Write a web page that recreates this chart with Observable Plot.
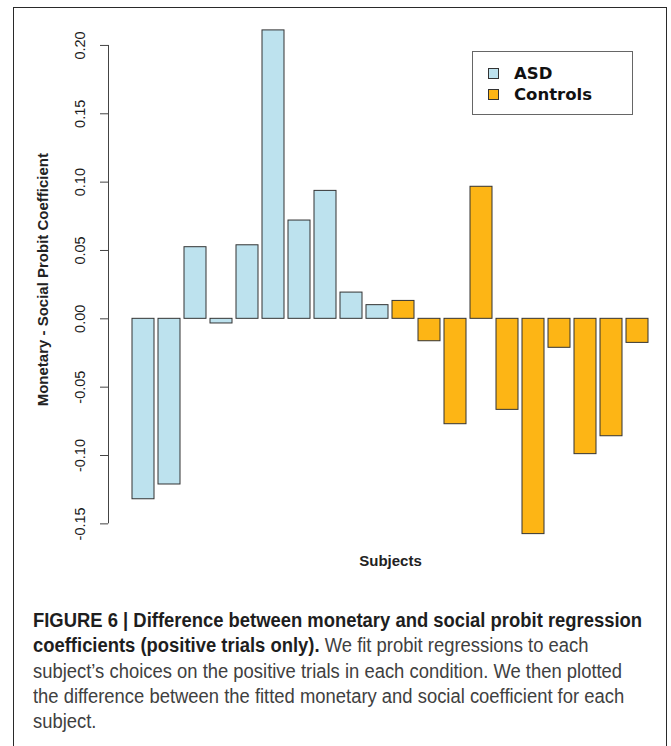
<!DOCTYPE html>
<html>
<head>
<meta charset="utf-8">
<script src="https://cdn.jsdelivr.net/npm/d3@7"></script>
<script src="https://cdn.jsdelivr.net/npm/@observablehq/plot@0.6"></script>
<style>
  html, body { margin: 0; padding: 0; overflow: hidden; background: #fff; width: 671px; height: 746px; }
  #frame { position: absolute; left: 13px; top: 7px; width: 654px; height: 800px; border: 1.5px solid #2a2a2a; box-sizing: border-box; }
  #chart { position: absolute; left: 0; top: 0; }
  #legend { position: absolute; left: 472px; top: 51px; width: 161px; height: 64px; border: 1.5px solid #666; box-sizing: border-box; background: #fff;
            font-family: "DejaVu Sans", Verdana, sans-serif; font-weight: bold; font-size: 16.5px; color: #111; }
  .lg-row { position: absolute; left: 15px; display: flex; align-items: center; height: 20px; }
  .lg-sw { width: 11px; height: 11px; border: 1.2px solid #333; box-sizing: border-box; margin-right: 15px; }
  #caption { position: absolute; left: 33px; top: 608px; font-family: "Liberation Sans Narrow", "Arial Narrow", "Liberation Sans", sans-serif;
             font-size: 20px; line-height: 25.3px; color: #404040; white-space: nowrap; transform: scaleX(0.921); transform-origin: 0 0; }
  #caption b { color: #1e1e1e; }
</style>
</head>
<body>
<div id="frame"></div>
<div id="chart"></div>
<div id="legend"></div>
<div id="caption">
  <b>FIGURE 6 | Difference between monetary and social probit regression</b><br>
  <b>coefficients (positive trials only).</b> We fit probit regressions to each<br>
  subject’s choices on the positive trials in each condition. We then plotted<br>
  the difference between the fitted monetary and social coefficient for each<br>
  subject.
</div>
<script>
// ---- data ----
const groups = ["ASD", "Controls"];
const colors = ["#bde2ee", "#fdb515"];
const asdSubjects = ["S1", "S2", "S3", "S4", "S5", "S6", "S7", "S8", "S9", "S10"];
const asdValues = [-0.132, -0.1212, 0.0524, -0.0034, 0.0538, 0.211, 0.0719, 0.0936, 0.0192, 0.0100];
const controlSubjects = ["S11", "S12", "S13", "S14", "S15", "S16", "S17", "S18", "S19", "S20"];
const controlValues = [0.0131, -0.0164, -0.0771, 0.0966, -0.0666, -0.1575, -0.0212, -0.099, -0.0859, -0.0176];
const yTicks = [-0.15, -0.10, -0.05, 0.00, 0.05, 0.10, 0.15, 0.20];
const yTickLabels = ["-0.15", "-0.10", "-0.05", "0.00", "0.05", "0.10", "0.15", "0.20"];
const yTitle = "Monetary - Social Probit Coefficient";
const xTitle = "Subjects";

const rows = [
  ...asdSubjects.map((s, i) => ({subject: s, value: asdValues[i], group: groups[0]})),
  ...controlSubjects.map((s, i) => ({subject: s, value: controlValues[i], group: groups[1]}))
];
const subjects = [...asdSubjects, ...controlSubjects];
const tickRows = yTicks.map((v, i) => ({v, label: yTickLabels[i]}));

const W = 671, H = 580, mL = 108, mR = 10, mT = 17.6, mB = 29.3;
const frameCx = (mL + W - mR) / 2;

const chart = Plot.plot({
  width: W, height: H,
  marginLeft: mL, marginRight: mR, marginTop: mT, marginBottom: mB,
  style: {fontFamily: "'Liberation Sans', Arial, Helvetica, sans-serif", background: "transparent", color: "#222"},
  x: {type: "band", domain: subjects, range: [129.2, 650.8], paddingInner: 0.17, paddingOuter: 0, axis: null},
  y: {domain: [-0.17, 0.22]},
  color: {domain: groups, range: colors},
  marks: [
    Plot.barY(rows, {x: "subject", y: "value", fill: "group", stroke: "#333", strokeWidth: 1}),
    Plot.axisY(yTicks, {anchor: "left", tickSize: 8, tickFormat: () => "", label: null, stroke: "#444", strokeWidth: 1}),
    Plot.ruleX([0], {x: null, y1: yTicks[0], y2: yTicks[yTicks.length - 1], dx: mL - frameCx, stroke: "#444", strokeWidth: 1}),
    Plot.text(tickRows, {y: "v", text: "label", frameAnchor: "left", dx: -28, rotate: -90,
      textAnchor: "middle", lineAnchor: "middle", fontSize: 14.5, fill: "#1a1a1a"}),
    Plot.text([yTitle], {frameAnchor: "left", dx: -65, dy: -5, rotate: -90, textAnchor: "middle", lineAnchor: "middle",
      fontSize: 15, fontWeight: "bold", fill: "#222"}),
    Plot.text([xTitle], {frameAnchor: "bottom", dx: 390 - frameCx, dy: 9.5, textAnchor: "middle", lineAnchor: "middle",
      fontSize: 15, fontWeight: "bold", fill: "#222"})
  ]
});
document.getElementById("chart").appendChild(chart);

// legend
const legend = document.getElementById("legend");
groups.forEach((g, i) => {
  const row = document.createElement("div");
  row.className = "lg-row";
  row.style.top = (11 + i * 21) + "px";
  const sw = document.createElement("div");
  sw.className = "lg-sw";
  sw.style.background = colors[i];
  const t = document.createElement("span");
  t.textContent = g;
  row.appendChild(sw); row.appendChild(t);
  legend.appendChild(row);
});
</script>
</body>
</html>
